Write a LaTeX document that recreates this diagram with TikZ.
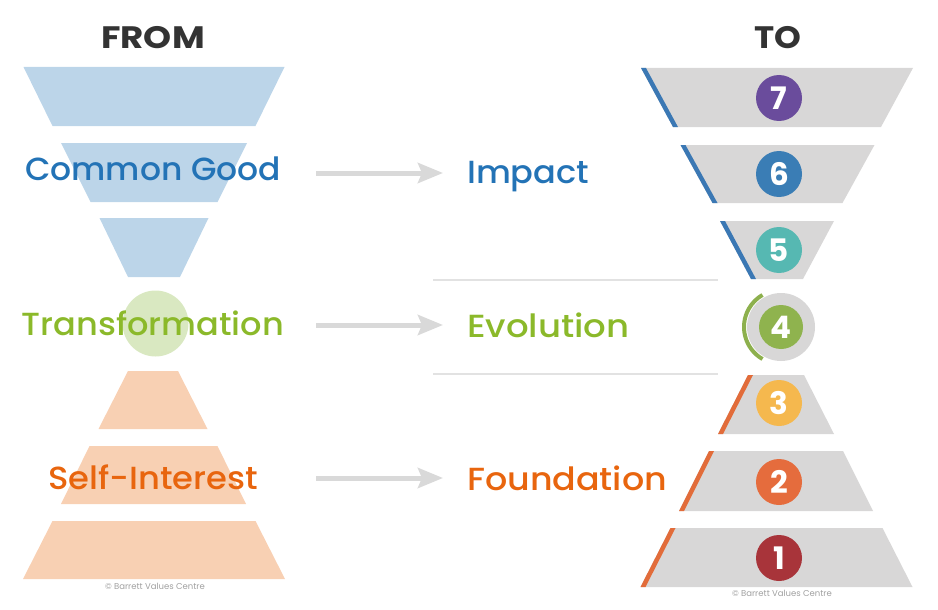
\documentclass[tikz,border=0pt]{standalone}
\usepackage{fontspec}
\setmainfont{Poppins}
\newfontfamily\medfont{Poppins Medium}
\usetikzlibrary{arrows.meta}
\definecolor{tblue}{HTML}{2373B6}
\definecolor{tgreen}{HTML}{8BB92A}
\definecolor{torange}{HTML}{E8650E}
\definecolor{title}{HTML}{333333}
\definecolor{fblue}{HTML}{BCD5E9}
\definecolor{fgreen}{HTML}{D9E8C1}
\definecolor{forange}{HTML}{F8D0B3}
\definecolor{tgray}{HTML}{D8D7D7}
\definecolor{sblue}{HTML}{3B78B4}
\definecolor{sorange}{HTML}{E26C3A}
\definecolor{sgreen}{HTML}{8DB04D}
\definecolor{arrowgray}{HTML}{D9D9D9}
\definecolor{linegray}{HTML}{E2E2E2}
\definecolor{copy}{HTML}{A0A0A0}
\definecolor{cseven}{HTML}{6A4C9C}
\definecolor{csix}{HTML}{3A7DB5}
\definecolor{cfive}{HTML}{56B8B2}
\definecolor{cfour}{HTML}{8FB34E}
\definecolor{cthree}{HTML}{F5B84E}
\definecolor{ctwo}{HTML}{E56C3D}
\definecolor{cone}{HTML}{A8343A}
% horizontal stretch of a text
\newcommand\hstretch[2]{\scalebox{#1}[1]{#2}}
% trapezoid: colour, cx, ytop, ybot, half-top, half-bottom
\newcommand\mytrap[6]{\fill[#1] ({#2-#5},#3) -- ({#2+#5},#3) -- ({#2+#6},#4) -- ({#2-#6},#4) -- cycle;}
% stripe on the left edge
\newcommand\mystripe[6]{\fill[#1] ({#2-#5},#3) -- ({#2-#5+5},#3) -- ({#2-#6+5},#4) -- ({#2-#6},#4) -- cycle;}
\begin{document}
\begin{tikzpicture}[x=1pt,y=-1pt,
  headtxt/.style={anchor=base, inner sep=0, text=title, font=\bfseries\fontsize{31}{31}\selectfont},
  lab/.style={anchor=base, inner sep=0, font=\medfont\fontsize{32}{32}\selectfont},
  midlab/.style={anchor=base west, inner sep=0, font=\medfont\fontsize{32}{32}\selectfont},
  numc/.style={circle, minimum size=46pt, inner sep=0, text=white, font=\bfseries\fontsize{31}{31}\selectfont},
  conn/.style={arrowgray, line width=5pt, -{Stealth[length=25pt,width=20pt,inset=4pt]}},
  sep/.style={linegray, line width=1.5pt},
  copyr/.style={anchor=center, inner sep=0, text=copy, font=\fontsize{8.5}{8.5}\selectfont}]
\useasboundingbox (0,0) rectangle (938,610);
% ---------- left cone ----------
\mytrap{fblue}{154}{67}{126}{130.5}{101.5}
\mytrap{fblue}{154}{143}{202}{93}{63.5}
\mytrap{fblue}{154}{218}{277}{54.5}{26}
\fill[fgreen] (155.5,323.5) circle (33);
\mytrap{forange}{153}{371}{429}{25}{54.5}
\mytrap{forange}{153.5}{446}{504}{64}{92.5}
\mytrap{forange}{154}{521}{579}{101.5}{131}
\node[headtxt] (from) at (153,49) {\hstretch{1.15}{FROM}};
\node[lab, text=tblue] (cg) at (153,180) {\hstretch{1.03}{Common Good}};
\node[lab, text=tgreen] (tr) at (153,335) {\hstretch{1.05}{Transformation}};
\node[lab, text=torange] (si) at (153,489) {\hstretch{1.055}{Self-Interest}};
\node[copyr] (cl) at (155,586) {© Barrett Values Centre};
% ---------- middle ----------
\coordinate (a1s) at (316,173); \coordinate (a1e) at (443,173);
\coordinate (a2s) at (316,325); \coordinate (a2e) at (443,325);
\coordinate (a3s) at (316,478); \coordinate (a3e) at (443,478);
\draw[conn] (a1s) -- (a1e);
\draw[conn] (a2s) -- (a2e);
\draw[conn] (a3s) -- (a3e);
\node[midlab, text=tblue] (imp) at (467,183) {\hstretch{1.05}{Impact}};
\node[midlab, text=tgreen] (evo) at (467,337) {\hstretch{1.11}{Evolution}};
\node[midlab, text=torange] (fou) at (467,490) {\hstretch{1.09}{Foundation}};
\coordinate (l1s) at (433,280); \coordinate (l1e) at (718,280);
\coordinate (l2s) at (433,374); \coordinate (l2e) at (718,374);
\draw[sep] (l1s) -- (l1e);
\draw[sep] (l2s) -- (l2e);
% ---------- right cone ----------
\mytrap{tgray}{777}{68}{127}{136}{104}
\mystripe{sblue}{777}{68}{127}{136}{104}
\mytrap{tgray}{777.5}{145}{203}{97}{65}
\mystripe{sblue}{777.5}{145}{203}{97}{65}
\mytrap{tgray}{777}{221}{279}{57}{26}
\mystripe{sblue}{777}{221}{279}{57}{26}
\mytrap{tgray}{776}{375}{434}{28}{58}
\mystripe{sorange}{776}{375}{434}{28}{58}
\mytrap{tgray}{776}{451}{511}{67}{97}
\mystripe{sorange}{776}{451}{511}{67}{97}
\mytrap{tgray}{776.5}{528}{587}{106}{136}
\mystripe{sorange}{776.5}{528}{587}{106}{136}
\fill[tgray] (781,327) circle (34);
\draw[sgreen, line width=4pt] (781,327) ++(120:37) arc[start angle=120, end angle=240, radius=37];
\node[headtxt] (to) at (778,49) {\hstretch{1.1}{TO}};
\node[numc, fill=cseven] (n7) at (779,98) {7};
\node[numc, fill=csix] (n6) at (779,174) {6};
\node[numc, fill=cfive] (n5) at (779,250) {5};
\node[numc, fill=cfour, minimum size=44pt] (n4) at (781,327) {4};
\node[numc, fill=cthree] (n3) at (779,403) {3};
\node[numc, fill=ctwo] (n2) at (779,482) {2};
\node[numc, fill=cone] (n1) at (779,558) {1};
\node[copyr] (cr) at (782,593) {© Barrett Values Centre};
\end{tikzpicture}
\end{document}
